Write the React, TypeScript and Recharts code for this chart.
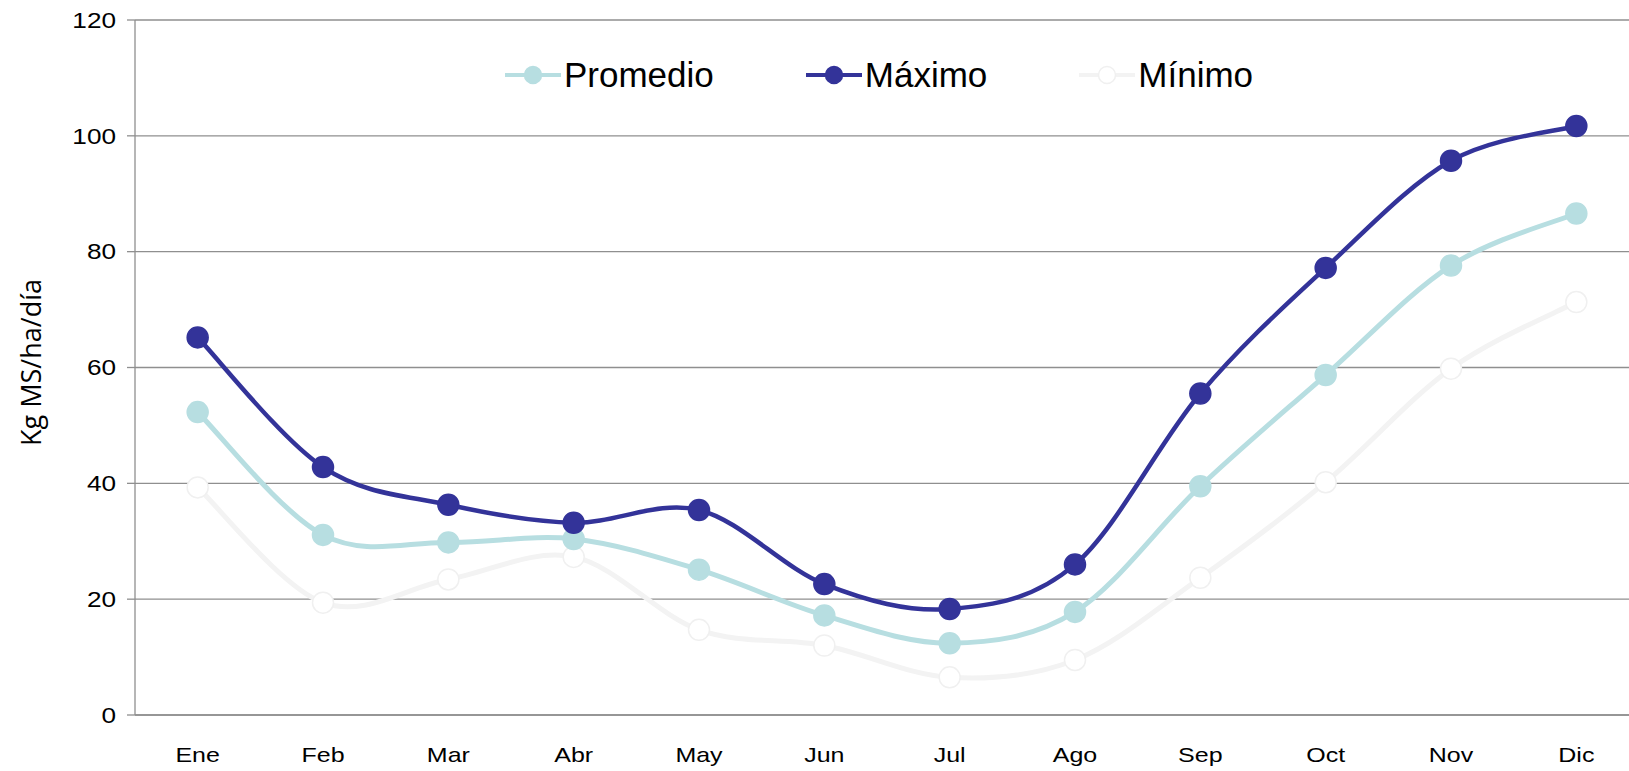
import React from 'react';
import { LineChart, Line, XAxis, YAxis, CartesianGrid, Legend } from 'recharts';

const months = ['Ene', 'Feb', 'Mar', 'Abr', 'May', 'Jun', 'Jul', 'Ago', 'Sep', 'Oct', 'Nov', 'Dic'];
const promedio = [52.3, 31.1, 29.8, 30.4, 25.1, 17.2, 12.4, 17.8, 39.5, 58.7, 77.6, 86.6];
const maximo = [65.2, 42.8, 36.3, 33.2, 35.4, 22.6, 18.3, 26.0, 55.5, 77.2, 95.7, 101.7];
const minimo = [39.3, 19.4, 23.4, 27.3, 14.7, 12.0, 6.5, 9.5, 23.7, 40.2, 59.8, 71.3];
const yTicks = [0, 20, 40, 60, 80, 100, 120];
const yLabel = 'Kg MS/ha/día';

const series = [
  { key: 'promedio', name: 'Promedio', color: '#B7DEE1', width: 5, fill: '#B7DEE1', dotStroke: '#B7DEE1' },
  { key: 'maximo', name: 'Máximo', color: '#333399', width: 4.5, fill: '#333399', dotStroke: '#333399' },
  { key: 'minimo', name: 'Mínimo', color: '#F3F3F3', width: 5, fill: '#FFFFFF', dotStroke: '#F0F0F0' },
];

const data = months.map((m, i) => ({ month: m, promedio: promedio[i], maximo: maximo[i], minimo: minimo[i] }));

// Excel-like smoothing (Catmull-Rom as cubic Bezier)
const excelCurve: any = (context: any) => {
  let pts: number[][] = [];
  return {
    areaStart() {},
    areaEnd() {},
    lineStart() { pts = []; },
    point(x: number, y: number) { pts.push([+x, +y]); },
    lineEnd() {
      const n = pts.length;
      if (!n) return;
      context.moveTo(pts[0][0], pts[0][1]);
      for (let i = 0; i < n - 1; i++) {
        const p0 = pts[Math.max(i - 1, 0)];
        const p1 = pts[i];
        const p2 = pts[i + 1];
        const p3 = pts[Math.min(i + 2, n - 1)];
        context.bezierCurveTo(
          p1[0] + (p2[0] - p0[0]) / 6, p1[1] + (p2[1] - p0[1]) / 6,
          p2[0] - (p3[0] - p1[0]) / 6, p2[1] - (p3[1] - p1[1]) / 6,
          p2[0], p2[1]
        );
      }
    },
  };
};

const FONT = '"Liberation Sans", Arial, sans-serif';

const XTick = (props: any) => {
  const { x, y, payload } = props;
  return (
    <g transform={`translate(${x},${y + 40}) scale(1.19,1)`}>
      <text x={0} y={0} textAnchor="middle" dominantBaseline="central" fontFamily={FONT} fontSize={21} fill="#000">
        {payload.value}
      </text>
    </g>
  );
};

const YTick = (props: any) => {
  const { x, y, payload } = props;
  return (
    <g transform={`translate(${x},${y}) scale(1.19,1)`}>
      <text x={0} y={0} textAnchor="end" dominantBaseline="central" fontFamily={FONT} fontSize={22} fill="#000">
        {payload.value}
      </text>
    </g>
  );
};

const YLabel = (props: any) => {
  const vb = props.viewBox || { x: 0, y: 20, width: 135, height: 695 };
  const cx = vb.x + 30;
  const cy = vb.y + vb.height / 2 - 5;
  return (
    <text x={cx} y={cy} transform={`rotate(-90, ${cx}, ${cy})`} textAnchor="middle" dominantBaseline="central"
      fontFamily='"Open Sans", sans-serif' fontSize={27} fill="#000">
      {yLabel}
    </text>
  );
};

const LegendContent = () => (
  <div style={{ display: 'flex', alignItems: 'center', paddingLeft: 505, height: 40 }}>
    {series.map((s, i) => (
      <div key={s.key} style={{ display: 'flex', alignItems: 'center', marginRight: i < series.length - 1 ? 92 : 0 }}>
        <svg width={56} height={40} style={{ display: 'block' }}>
          <line x1={0} y1={20} x2={56} y2={20} stroke={s.color} strokeWidth={4} />
          <circle cx={28} cy={20} r={8.5} fill={s.fill} stroke={s.dotStroke} strokeWidth={1.5} />
        </svg>
        <span style={{ marginLeft: 3, fontFamily: FONT, fontSize: 35, color: '#000', lineHeight: '40px' }}>{s.name}</span>
      </div>
    ))}
  </div>
);

const makeDot = (fill: string, stroke: string) => (props: any) => {
  const { cx, cy, index } = props;
  if (cx == null || cy == null) return <g key={index} />;
  return <circle key={index} cx={cx} cy={cy} r={10.5} fill={fill} stroke={stroke} strokeWidth={1.5} />;
};

export default function App() {
  return (
    <div style={{ position: 'absolute', left: 0, top: 0, width: 1629, height: 771, overflow: 'hidden', background: '#fff' }}>
      <LineChart width={1639} height={771} data={data} margin={{ top: 20, right: 0, bottom: 0, left: 0 }}>
        <CartesianGrid vertical={false} stroke="#8f8f8f" strokeWidth={1.3} />
        <XAxis dataKey="month" height={56} tickLine={false} tickSize={0} tickMargin={0} stroke="#8f8f8f" strokeWidth={1.3}
          tick={<XTick />} interval={0} padding={{ left: 62.67, right: 62.67 }} />
        <YAxis width={135} domain={[0, 120]} ticks={yTicks} tickSize={8} tickMargin={11} stroke="#8f8f8f" strokeWidth={1.3}
          tick={<YTick />} label={<YLabel />} interval={0} />
        <Legend verticalAlign="middle" align="center" layout="horizontal" content={<LegendContent />}
          wrapperStyle={{ top: 55, left: 0, width: 1639, height: 40 }} />
        {[series[2], series[0], series[1]].map((s) => (
          <Line key={s.key} dataKey={s.key} name={s.name} type={excelCurve} stroke={s.color} strokeWidth={s.width}
            dot={makeDot(s.fill, s.dotStroke)} activeDot={false} isAnimationActive={false} />
        ))}
      </LineChart>
    </div>
  );
}
